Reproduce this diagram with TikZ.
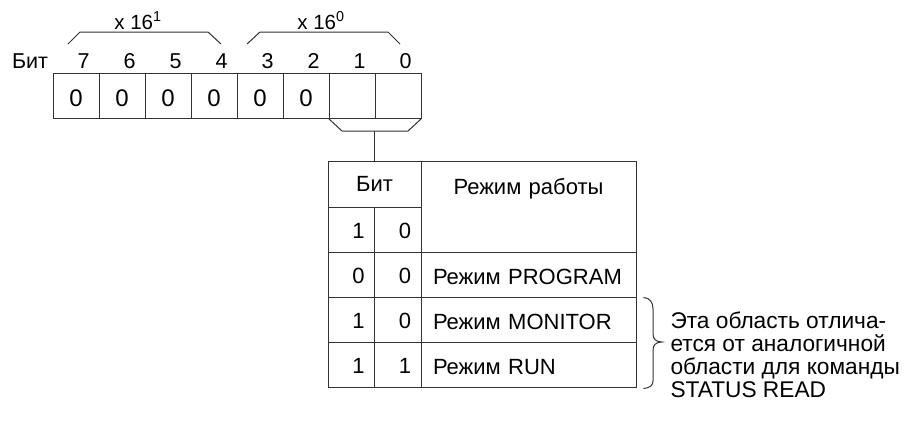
\documentclass[tikz,border=0pt]{standalone}
\usepackage{fontspec}
\setmainfont{Liberation Sans}
\usetikzlibrary{calc}
\begin{document}
\begin{tikzpicture}[x=1pt,y=-1pt, line width=1pt,
  font=\fontsize{22}{23}\selectfont,
  ln/.style={draw=black!80},
  regcell/.style={draw=black!80, minimum width=46pt, minimum height=45pt, inner sep=0pt,
    text height=22pt, text depth=0pt, font=\fontsize{24}{26}\selectfont},
  bitlbl/.style={anchor=base, inner sep=0pt, font=\fontsize{21.5}{24}\selectfont},
  tcell/.style={draw=black!80, minimum height=45pt, text width=26.5pt, inner xsep=10pt,
    inner ysep=0pt, align=right, text height=18pt, text depth=0pt},
  mcell/.style={draw=black!80, minimum height=45pt, text width=191pt, inner xsep=12pt,
    inner ysep=0pt, align=left, text height=20pt, text depth=0pt}
]
\useasboundingbox (0,0) rectangle (913,432);

% register
\node[regcell] (r7) at (76,95.5) {0};
\node[regcell] (r6) at (122,95.5) {0};
\node[regcell] (r5) at (168,95.5) {0};
\node[regcell] (r4) at (214,95.5) {0};
\node[regcell] (r3) at (260,95.5) {0};
\node[regcell] (r2) at (306,95.5) {0};
\node[regcell] (r1) at (352,95.5) {};
\node[regcell] (r0) at (398,95.5) {};

% bit labels
\node[bitlbl] (bitword) at (30,68) {Бит};
\foreach \b/\x in {7/76,6/122,5/168,4/214,3/260,2/306,1/352,0/398}
  \node[bitlbl] (l\b) at (\x+7.5,68) {\b};

% hex weight brackets
\coordinate (ha1) at (68,44);  \coordinate (ha2) at (80,32);
\coordinate (ha3) at (208,32); \coordinate (ha4) at (221,44);
\coordinate (hb1) at (247,44); \coordinate (hb2) at (260,32);
\coordinate (hb3) at (388,32); \coordinate (hb4) at (400,44);
\draw[ln] (ha1) -- (ha2) -- (ha3) -- (ha4);
\draw[ln] (hb1) -- (hb2) -- (hb3) -- (hb4);
\node[anchor=base, inner sep=0pt, font=\fontsize{20.5}{22}\selectfont] (xs1) at (138,29) {x 16\textsuperscript{1}};
\node[anchor=base, inner sep=0pt, font=\fontsize{20.5}{22}\selectfont] (xs0) at (321,29) {x 16\textsuperscript{0}};

% table
\node[draw=black!80, minimum width=93pt, minimum height=46pt, inner sep=0pt] (thdr) at (374.5,184) {Бит};
\node[draw=black!80, text width=215pt, inner xsep=0pt, inner ysep=0pt, align=center,
      text height=33pt, text depth=58pt] (tmode) at (528.5,206.5) {Режим работы};

\node[tcell] (h1) at (351.25,229.5) {1};
\node[tcell] (h0) at (397.75,229.5) {0};

\node[tcell] (p1) at (351.25,274.5) {0};
\node[tcell] (p0) at (397.75,274.5) {0};
\node[mcell] (mprog) at (528.5,274.5) {Режим PROGRAM};

\node[tcell] (m1) at (351.25,319.5) {1};
\node[tcell] (m0) at (397.75,319.5) {0};
\node[mcell] (mmon) at (528.5,319.5) {Режим MONITOR};

\node[tcell] (u1) at (351.25,364.5) {1};
\node[tcell] (u0) at (397.75,364.5) {1};
\node[mcell] (mrun) at (528.5,364.5) {Режим RUN};

% bracket under bits 1,0 and connector to table
\coordinate (bl) at (342,131);
\coordinate (br) at (408,131);
\coordinate (bm) at (374.5,131);
\draw[ln] (r1.south west) -- (bl) -- (br) -- (r0.south east);
\draw[ln] (bm) -- (thdr.north);

% brace and note
\coordinate (bt) at ($(mmon.north east)+(7,1)$);
\coordinate (bb) at ($(mrun.south east)+(7,1)$);
\coordinate (btip) at (662,342);
\draw[ln] (bt) .. controls (650,298) and (653,302) .. (653,309)
  -- (653,334) .. controls (653,339) and (656,342) .. (btip)
  .. controls (656,342) and (653,345) .. (653,350)
  -- (653,381) .. controls (653,385) and (650,388) .. (bb);
\node[anchor=north west, inner sep=0pt, align=left, font=\fontsize{22.7}{23}\selectfont] (note) at (670,311)
  {Эта область отлича-\\ется от аналогичной\\области для команды\\STATUS READ};
\end{tikzpicture}
\end{document}
